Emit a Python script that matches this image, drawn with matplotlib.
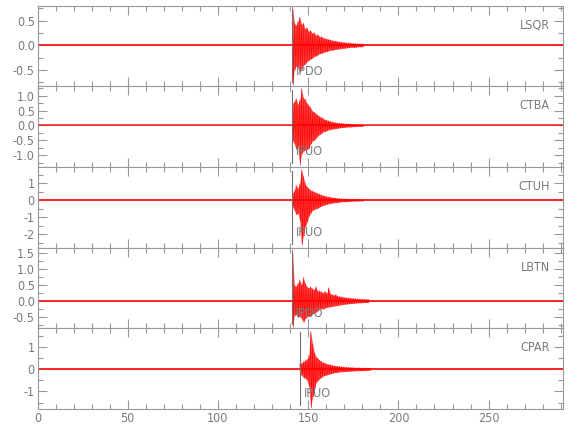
import numpy as np
import matplotlib
matplotlib.use("Agg")
import matplotlib.pyplot as plt
from matplotlib.ticker import MultipleLocator, FormatStrFormatter

plt.rcParams['font.family'] = ['DejaVu Sans']
plt.rcParams['font.stretch'] = 'condensed'

# ---------------- data ----------------
stations = ["LSQR", "CTBA", "CTUH", "LBTN", "CPAR"]
pick_labels = ["IPDO", "IPUO", "IPUO", "IPDO", "IPUO"]
pick_times = [141.3, 141.3, 141.3, 141.3, 145.4]
record_start = 0.0
record_end = 291.0
baseline = 0.0
sample_step = 1.0          # spacing of the read peak pairs (s)
noise_levels = [0.02, 0.033, 0.06, 0.03, 0.045]

lsqr_up = [0.80, 0.45, 0.40, 0.48, 0.57, 0.42, 0.45, 0.33, 0.36, 0.28, 0.30, 0.24, 0.26, 0.20,
           0.22, 0.17, 0.18, 0.15, 0.14, 0.13, 0.12, 0.11, 0.10, 0.09, 0.09, 0.08, 0.07, 0.07,
           0.06, 0.06, 0.05, 0.05, 0.05, 0.04, 0.04, 0.04, 0.03, 0.03, 0.03, 0.03]
lsqr_lo = [-0.80, -0.50, -0.42, -0.45, -0.55, -0.48, -0.40, -0.38, -0.33, -0.30, -0.28, -0.26,
           -0.22, -0.22, -0.19, -0.17, -0.16, -0.15, -0.13, -0.13, -0.11, -0.10, -0.10, -0.09,
           -0.08, -0.08, -0.07, -0.07, -0.06, -0.06, -0.05, -0.05, -0.04, -0.04, -0.04, -0.04,
           -0.03, -0.03, -0.03, -0.03]

ctba_up = [0.73, 0.80, 0.90, 0.70, 0.85, 1.23, 0.92, 0.88, 0.75, 0.68, 0.60, 0.48, 0.45, 0.40,
           0.35, 0.30, 0.28, 0.23, 0.20, 0.18, 0.16, 0.14, 0.12, 0.11, 0.10, 0.09, 0.08, 0.08,
           0.07, 0.06, 0.06, 0.05, 0.05, 0.04, 0.04, 0.04, 0.03, 0.03, 0.03, 0.03]
ctba_lo = [-0.50, -0.62, -0.80, -0.72, -1.32, -0.95, -0.85, -0.83, -0.80, -0.77, -0.62, -0.52,
           -0.49, -0.42, -0.35, -0.30, -0.26, -0.21, -0.20, -0.17, -0.15, -0.13, -0.12, -0.11,
           -0.10, -0.09, -0.08, -0.07, -0.07, -0.06, -0.05, -0.05, -0.05, -0.04, -0.04, -0.03,
           -0.03, -0.03, -0.03, -0.03]

ctuh_up = [0.41, 0.55, 0.90, 0.70, 0.95, 1.82, 1.39, 1.00, 0.80, 0.70, 0.60, 0.55, 0.50, 0.45,
           0.41, 0.36, 0.32, 0.28, 0.26, 0.23, 0.20, 0.18, 0.16, 0.15, 0.14, 0.12, 0.11, 0.10,
           0.09, 0.08, 0.08, 0.07, 0.06, 0.06, 0.05, 0.05, 0.05, 0.04, 0.04, 0.04]
ctuh_lo = [-0.37, -0.60, -0.86, -0.75, -1.20, -2.63, -2.10, -1.55, -1.30, -0.95, -0.76, -0.60,
           -0.55, -0.50, -0.47, -0.40, -0.34, -0.30, -0.27, -0.24, -0.21, -0.19, -0.17, -0.15,
           -0.14, -0.13, -0.11, -0.10, -0.09, -0.09, -0.08, -0.07, -0.07, -0.06, -0.05, -0.05,
           -0.05, -0.04, -0.04, -0.04]

lbtn_up = [1.58, 0.49, 0.45, 0.55, 0.65, 0.50, 0.73, 0.55, 0.44, 0.40, 0.44, 0.38, 0.35, 0.44,
           0.30, 0.32, 0.28, 0.25, 0.30, 0.24, 0.41, 0.22, 0.20, 0.18, 0.20, 0.15, 0.14, 0.13,
           0.12, 0.11, 0.10, 0.10, 0.09, 0.08, 0.08, 0.07, 0.07, 0.06, 0.06, 0.06, 0.05, 0.05,
           0.05]
lbtn_lo = [-0.81, -0.45, -0.42, -0.50, -0.48, -0.55, -0.66, -0.55, -0.50, -0.45, -0.48, -0.40,
           -0.38, -0.35, -0.30, -0.26, -0.24, -0.25, -0.22, -0.20, -0.19, -0.18, -0.17, -0.16,
           -0.15, -0.14, -0.13, -0.12, -0.11, -0.10, -0.10, -0.09, -0.08, -0.08, -0.07, -0.07,
           -0.06, -0.06, -0.06, -0.05, -0.05, -0.05, -0.05]

cpar_up = [0.22, 0.28, 0.35, 0.40, 0.45, 0.63, 1.70, 1.15, 0.75, 0.55, 0.48, 0.40, 0.35, 0.30,
           0.27, 0.24, 0.22, 0.20, 0.18, 0.16, 0.15, 0.14, 0.13, 0.12, 0.11, 0.10, 0.10, 0.09,
           0.09, 0.08, 0.08, 0.07, 0.07, 0.07, 0.06, 0.06, 0.06, 0.05, 0.05, 0.05]
cpar_lo = [-0.25, -0.27, -0.38, -0.42, -0.50, -0.80, -1.73, -1.24, -0.87, -0.60, -0.50, -0.42,
           -0.36, -0.30, -0.28, -0.25, -0.22, -0.20, -0.18, -0.16, -0.15, -0.14, -0.12, -0.12,
           -0.11, -0.10, -0.10, -0.09, -0.09, -0.08, -0.08, -0.07, -0.07, -0.07, -0.06, -0.06,
           -0.06, -0.05, -0.05, -0.05]

uppers = [lsqr_up, ctba_up, ctuh_up, lbtn_up, cpar_up]
lowers = [lsqr_lo, ctba_lo, ctuh_lo, lbtn_lo, cpar_lo]

x_ticks = [0, 50, 100, 150, 200, 250]

# ---------------- layout / style ----------------
ylims = [(-0.83, 0.80), (-1.39, 1.31), (-2.80, 1.96), (-0.85, 1.65), (-1.79, 1.84)]
ymajor = [0.5, 0.5, 1.0, 0.5, 1.0]
yminor = [0.25, 0.25, 0.5, 0.25, 0.5]
yfmt = ["%.1f", "%.1f", "%d", "%.1f", "%d"]

W, H = 580, 440
left_px, right_px = 37.5, 562.6
top_px, bottom_px = 5.7, 409.0
panel_h = (bottom_px - top_px) / 5

gray = "#999999"
txt_gray = "#7a7a7a"
red = "#ff0000"

fig = plt.figure(figsize=(W / 100, H / 100), dpi=100)
fig.patch.set_facecolor("white")

for i in range(5):
    y_top = top_px + i * panel_h
    ax = fig.add_axes([left_px / W, 1 - (y_top + panel_h) / H,
                       (right_px - left_px) / W, panel_h / H])
    ax.set_xlim(record_start, record_end)
    ax.set_ylim(*ylims[i])

    # background noise band + trace baseline
    nz = noise_levels[i]
    ax.fill_between([record_start, record_end], [-nz, -nz], [nz, nz],
                    color=red, alpha=0.5, lw=0)
    ax.plot([record_start, record_end], [baseline, baseline], color=red, lw=1.1, alpha=0.9)

    up = np.array(uppers[i])
    lo = np.array(lowers[i])
    t = pick_times[i] + np.arange(len(up)) * sample_step
    ax.fill_between(t, lo, up, color=red, alpha=0.7, lw=0)
    # zig-zag through the read peaks: upper peak then lower peak
    tz = np.empty(2 * len(t))
    az = np.empty(2 * len(t))
    tz[0::2] = t
    tz[1::2] = t + sample_step / 2
    az[0::2] = up
    az[1::2] = lo
    ax.plot(tz, az, color=red, lw=0.45, alpha=0.9)

    # pick marker
    ax.axvline(pick_times[i], ymin=0.05, ymax=0.95, color="#707070", lw=0.8)
    ax.text(pick_times[i] + 2.0, 0.19, pick_labels[i], transform=ax.get_xaxis_transform(),
            color=txt_gray, fontsize=9, ha="left", va="center")
    ax.text(0.976, 0.76, stations[i], transform=ax.transAxes, color=txt_gray,
            fontsize=9, ha="right", va="center")

    for s in ax.spines.values():
        s.set_color(gray)
        s.set_linewidth(0.8)
    ax.xaxis.set_major_locator(plt.FixedLocator(x_ticks))
    ax.xaxis.set_minor_locator(MultipleLocator(10))
    ax.yaxis.set_major_locator(MultipleLocator(ymajor[i]))
    ax.yaxis.set_minor_locator(MultipleLocator(yminor[i]))
    ax.yaxis.set_major_formatter(FormatStrFormatter(yfmt[i]))
    ax.tick_params(which="both", direction="in", top=True, right=True,
                   color=gray, labelcolor=txt_gray, labelsize=9, width=0.8)
    ax.tick_params(which="major", length=6.5, pad=2)
    ax.tick_params(which="minor", length=3.5)
    if i < 4:
        ax.tick_params(labelbottom=False)

fig.savefig("out.png", dpi=100, facecolor="white")
